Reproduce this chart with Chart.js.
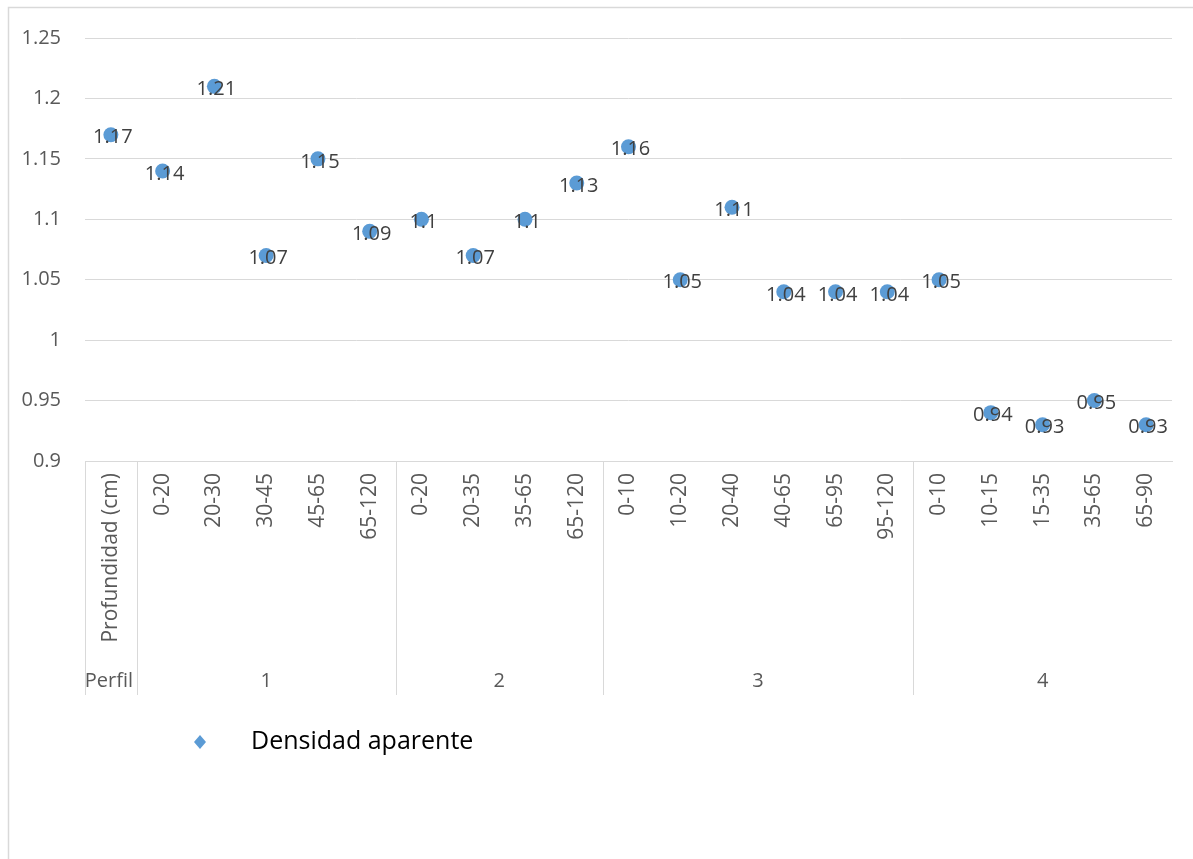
<!DOCTYPE html>
<html>
<head>
<meta charset="utf-8">
<script src="https://cdn.jsdelivr.net/npm/chart.js@4.4.1/dist/chart.umd.min.js"></script>
<style>
  html, body { margin: 0; padding: 0; background: #ffffff; }
  #wrap { width: 1193px; height: 859px; position: relative; }
</style>
</head>
<body>
<div id="wrap"><canvas id="chart" width="1193" height="859"></canvas></div>
<script>
// Depth intervals (cm) for each sampled horizon; first slot is the row header
const depths = ['Profundidad (cm)',
  '0-20', '20-30', '30-45', '45-65', '65-120',
  '0-20', '20-35', '35-65', '65-120',
  '0-10', '10-20', '20-40', '40-65', '65-95', '95-120',
  '0-10', '10-15', '15-35', '35-65', '65-90'];

// Profile each horizon belongs to (first entry is the row header)
const profiles = ['Perfil', '1', '2', '3', '4'];
const profileSizes = [1, 5, 4, 6, 5];

// Bulk density (g/cm3)
const densidad = [1.17,
  1.14, 1.21, 1.07, 1.15, 1.09,
  1.10, 1.07, 1.10, 1.13,
  1.16, 1.05, 1.11, 1.04, 1.04, 1.04,
  1.05, 0.94, 0.93, 0.95, 0.93];

const yTicks = [0.9, 0.95, 1, 1.05, 1.1, 1.15, 1.2, 1.25];

const FONT = "'Open Sans', 'Noto Sans', sans-serif";
const BLUE = '#5B9BD5';
const GRID = '#d9d9d9';
const AXIS_TEXT = '#595959';

// Outer frame of the chart object
const framePlugin = {
  id: 'frame',
  beforeDraw(chart) {
    const ctx = chart.ctx;
    ctx.save();
    ctx.strokeStyle = GRID;
    ctx.lineWidth = 1.5;
    ctx.strokeRect(8.5, 7.5, 1400, 1000);
    ctx.restore();
  }
};

// Second level of the category axis: profile groups with divider lines
const groupAxisPlugin = {
  id: 'groupAxis',
  afterDraw(chart) {
    const ctx = chart.ctx;
    const x = chart.scales.x;
    const area = chart.chartArea;
    const step = (area.right - area.left) / depths.length;
    const bottom = 695;
    ctx.save();
    ctx.strokeStyle = GRID;
    ctx.lineWidth = 1;
    // left edge of the axis block
    ctx.beginPath();
    ctx.moveTo(Math.round(area.left) + 0.5, area.bottom);
    ctx.lineTo(Math.round(area.left) + 0.5, bottom);
    ctx.stroke();
    let start = 0;
    ctx.font = '20px ' + FONT;
    ctx.fillStyle = AXIS_TEXT;
    ctx.textAlign = 'center';
    ctx.textBaseline = 'middle';
    profileSizes.forEach((n, i) => {
      const end = start + n;
      const x0 = x.getPixelForValue(start) - step / 2;
      const x1 = x.getPixelForValue(end - 1) + step / 2;
      if (end < depths.length) {
        ctx.beginPath();
        ctx.moveTo(Math.round(x1) + 0.5, area.bottom);
        ctx.lineTo(Math.round(x1) + 0.5, bottom);
        ctx.stroke();
      }
      ctx.fillText(profiles[i], (x0 + x1) / 2 - (i === 0 ? 2 : 0), 681);
      start = end;
    });
    ctx.restore();
  }
};

// Value labels centred on each marker
const valueLabelPlugin = {
  id: 'valueLabels',
  afterDatasetsDraw(chart) {
    const ctx = chart.ctx;
    const meta = chart.getDatasetMeta(0);
    ctx.save();
    ctx.font = '20px ' + FONT;
    ctx.fillStyle = '#404040';
    ctx.textAlign = 'center';
    ctx.textBaseline = 'middle';
    meta.data.forEach((pt, i) => {
      ctx.fillText(String(densidad[i]), pt.x + 2, pt.y + 3);
    });
    ctx.restore();
  }
};

// Legend entry below the axis
const legendPlugin = {
  id: 'legendEntry',
  afterDraw(chart) {
    const ctx = chart.ctx;
    const cx = 200, cy = 742;
    ctx.save();
    ctx.fillStyle = BLUE;
    ctx.beginPath();
    ctx.moveTo(cx, cy - 7);
    ctx.lineTo(cx + 6, cy);
    ctx.lineTo(cx, cy + 7);
    ctx.lineTo(cx - 6, cy);
    ctx.closePath();
    ctx.fill();
    ctx.font = '25px ' + FONT;
    ctx.fillStyle = '#000000';
    ctx.textAlign = 'left';
    ctx.textBaseline = 'middle';
    ctx.fillText(chart.data.datasets[0].label, 251, cy);
    ctx.restore();
  }
};

new Chart(document.getElementById('chart'), {
  type: 'line',
  data: {
    labels: depths,
    datasets: [{
      label: 'Densidad aparente',
      data: densidad,
      showLine: false,
      pointRadius: 7.5,
      pointHoverRadius: 7.5,
      pointBackgroundColor: BLUE,
      pointBorderColor: BLUE,
      pointBorderWidth: 0,
      pointStyle: 'circle'
    }]
  },
  options: {
    responsive: false,
    animation: false,
    events: [],
    layout: { padding: { left: 0, right: 21, top: 38, bottom: 0 } },
    plugins: {
      legend: { display: false },
      tooltip: { enabled: false }
    },
    scales: {
      x: {
        type: 'category',
        offset: true,
        grid: { display: false, drawTicks: false },
        border: { display: true, color: GRID, width: 1 },
        ticks: {
          autoSkip: false,
          minRotation: 90,
          maxRotation: 90,
          padding: 12,
          color: AXIS_TEXT,
          font: { family: FONT, size: 21 }
        },
        afterFit(scale) { scale.height = 859 - 461; }
      },
      y: {
        min: 0.9,
        max: 1.25,
        grid: { color: GRID, lineWidth: 1, drawTicks: false },
        border: { display: false },
        afterBuildTicks(scale) { scale.ticks = yTicks.map(v => ({ value: v })); },
        ticks: {
          padding: 24,
          color: AXIS_TEXT,
          font: { family: FONT, size: 20 },
          callback: v => String(Math.round(v * 100) / 100)
        },
        afterFit(scale) { scale.width = 85; }
      }
    }
  },
  plugins: [framePlugin, groupAxisPlugin, valueLabelPlugin, legendPlugin]
});
</script>
</body>
</html>
